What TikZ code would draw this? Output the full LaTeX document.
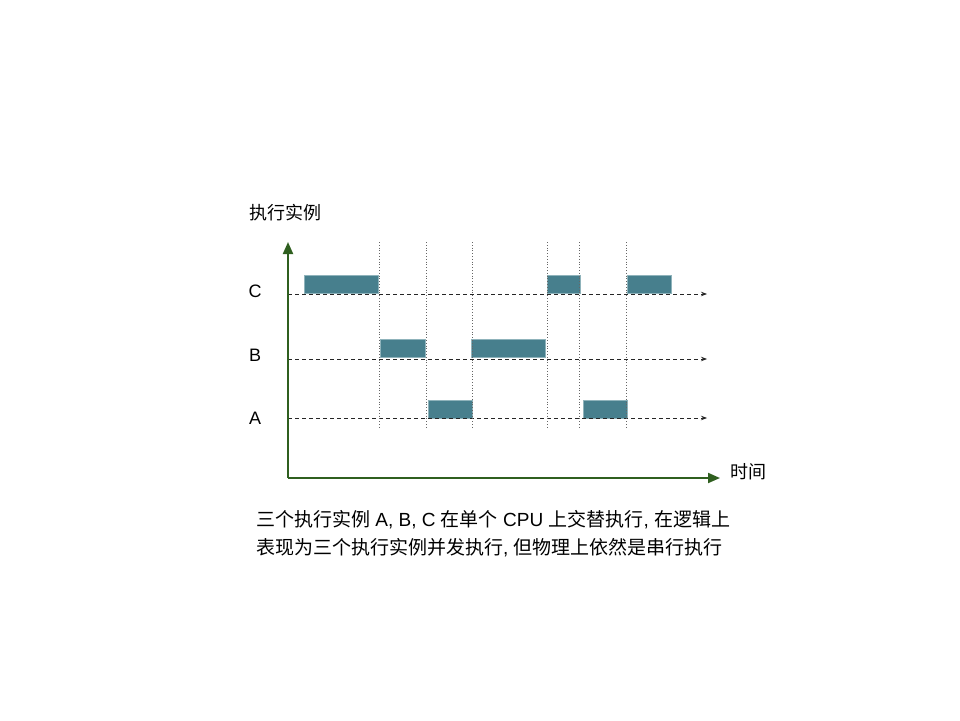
\documentclass[tikz,border=0pt]{standalone}
\usepackage{fontspec}
\setmainfont{Liberation Sans}
\newfontfamily\cjk{Noto Sans CJK SC}
\usetikzlibrary{arrows.meta}
\definecolor{axisgreen}{HTML}{2F5F1F}
\definecolor{runfill}{HTML}{477F8D}
\definecolor{runline}{HTML}{8FB3BB}

\begin{document}
\begin{tikzpicture}[x=1pt,y=-1pt,
  axis/.style={draw=axisgreen, line width=2pt, -{Triangle[length=12pt,width=10pt]}},
  lane/.style={draw=black!85, dash pattern=on 4pt off 3pt, line width=0.8pt, -{Stealth[length=6pt,width=4.5pt]}},
  slot/.style={draw=black!60, dotted, line width=0.8pt},
  run/.style={draw=runline, fill=runfill, line width=0.8pt, minimum height=18pt, inner sep=0pt},
  lbl/.style={font=\fontsize{18}{22}\selectfont, inner sep=0pt}]
\useasboundingbox (0,0) rectangle (960,720);

% axes
\coordinate (O) at (288,478);
\coordinate (ytop) at (288,242);
\coordinate (xend) at (720,478);

\node[lbl] (ylabel) at (285.5,213) {\cjk 执行实例};
\node[lbl] (xlabel) at (748,472) {\cjk 时间};
\node[lbl] (labC) at (255,291) {C};
\node[lbl] (labB) at (255,355) {B};
\node[lbl] (labA) at (255,418) {A};

% time slices of each instance
\node[run, minimum width=74pt] (C1) at (341,284) {};
\node[run, minimum width=33pt] (C2) at (563.5,284) {};
\node[run, minimum width=44pt] (C3) at (649,284) {};
\node[run, minimum width=45pt] (B1) at (402.5,348) {};
\node[run, minimum width=74pt] (B2) at (508,348) {};
\node[run, minimum width=44pt] (A1) at (450,409) {};
\node[run, minimum width=44pt] (A2) at (605,409) {};

% lanes
\coordinate (cS) at (288,294);
\coordinate (cE) at (707,294);
\coordinate (bS) at (288,359);
\coordinate (bE) at (707,359);
\coordinate (aS) at (288,418);
\coordinate (aE) at (707,418);
\draw[lane] (cS) -- (cE);
\draw[lane] (bS) -- (bE);
\draw[lane] (aS) -- (aE);

% switch points
\foreach \x [count=\i] in {379.5,426.5,472.5,547,579.5,626} {
  \coordinate (s\i top) at (\x,242);
  \coordinate (s\i bot) at (\x,428);
  \draw[slot] (s\i top) -- (s\i bot);
}

\draw[axis] (O) -- (ytop);
\draw[axis] (O) -- (xend);

\node[lbl, anchor=north west, align=left, font=\fontsize{19}{28}\selectfont] (note) at (256,510)
  {{\cjk 三个执行实例} A, B, C {\cjk 在单个} CPU {\cjk 上交替执行}, {\cjk 在逻辑上}\\
   {\cjk 表现为三个执行实例并发执行}, {\cjk 但物理上依然是串行执行}};
\end{tikzpicture}
\end{document}
